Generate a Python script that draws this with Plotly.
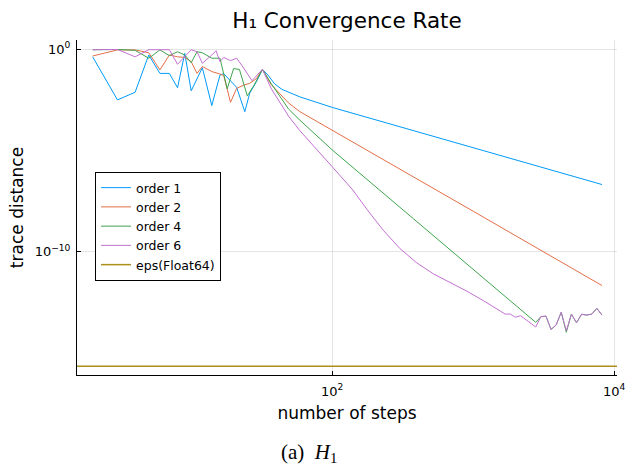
import plotly.graph_objects as go

# ---------------- data (distances stored as log10 exponents) ----------------
steps_order1 = [2, 3, 4, 5, 6, 7, 8, 9, 10, 12, 14, 16, 17, 21, 24, 26, 29, 32,
                35, 39, 44, 49, 59, 100, 1000, 8192]
log_dist_order1 = [-0.37, -2.50, -2.12, -0.28, -1.19, -1.19, -1.90, -0.20, -2.05, -0.91,
                   -2.78, -1.27, -1.20, -1.88, -3.08, -2.17, -1.60, -0.99,
                   -1.27, -1.70, -1.98, -2.13, -2.35, -2.87, -4.86, -6.68]

steps_order2 = [2, 3, 4, 5, 6, 7, 8, 9, 10, 11, 12, 14, 16, 17, 19, 21, 24, 26, 29, 32,
                37, 49, 59, 100, 1000, 8192]
log_dist_order2 = [-0.33, -0.03, -0.03, -0.17, -1.02, -0.28, -0.37, -0.40, -0.61, -1.19,
                   -0.85, -1.10, -1.22, -1.30, -2.62, -1.93, -1.75, -1.68, -1.45, -0.99,
                   -1.75, -2.65, -3.08, -3.99, -8.00, -11.67]

steps_order4 = [2, 3, 4, 5, 6, 7, 8, 9, 10, 11, 12, 14, 16, 18, 20, 22, 25, 28, 32,
                37, 49, 59, 100, 1000,
                2778, 3019, 3281, 3566, 3875, 4211, 4577, 4973, 5405, 5874, 6383, 6937, 7538, 8192]
log_dist_order4 = [-0.02, -0.01, -0.05, -0.44, -0.03, -0.31, -0.12, -0.28, -0.66, -0.12,
                   -0.17, -0.44, -0.44, -1.95, -0.95, -1.00, -2.30, -1.76, -0.99,
                   -1.70, -2.95, -3.50, -4.97, -10.87,
                   -13.49, -13.21, -13.18, -13.84, -13.62, -12.99, -13.98, -13.08, -13.51,
                   -13.09, -13.13, -13.08, -12.80, -13.13]

steps_order6 = [2, 3, 4, 5, 6, 7, 8, 9, 10, 11, 12, 14, 15, 16, 17, 19, 21, 23, 27, 32,
                37, 49, 59, 100, 140, 176, 231, 303, 398, 524, 687, 902, 1183, 1552,
                1687, 1833, 1992, 2165, 2353, 2557, 2778,
                3019, 3281, 3566, 3875, 4211, 4577, 4973, 5405, 5874, 6383, 6937, 7538, 8192]
log_dist_order6 = [-0.02, -0.01, -0.37, -0.02, -0.02, -0.02, -0.74, -0.37, -0.02, -0.12,
                   -0.69, -0.28, -0.07, -0.61, -0.40, -0.56, -0.44, -0.82, -1.55, -0.99,
                   -1.95, -3.30, -4.02, -5.80, -6.95, -7.90, -8.95, -9.85, -10.55, -11.10,
                   -11.52, -11.95, -12.42, -12.90,
                   -13.08, -13.08, -13.24, -13.16, -13.34, -13.51, -13.72,
                   -13.21, -13.18, -13.84, -13.62, -12.99, -13.90, -13.08, -13.51,
                   -13.09, -13.13, -13.08, -12.80, -13.13]

EPS_FLOAT64 = 2.220446049250313e-16

series_names = ["order 1", "order 2", "order 4", "order 6"]
series_colors = ["#009AFA", "#E36F47", "#3EA44E", "#C371D2"]
eps_color = "#AC8E18"

X_RANGE_LOG = [0.19, 4.02]
Y_RANGE_LOG = [-16.09, 0.46]

FONT = "DejaVu Sans"
FIG_W, FIG_H = 625, 468

fig = go.Figure()
all_steps = [steps_order1, steps_order2, steps_order4, steps_order6]
all_logs = [log_dist_order1, log_dist_order2, log_dist_order4, log_dist_order6]
for name, xs, ls, c in zip(series_names, all_steps, all_logs, series_colors):
    fig.add_trace(go.Scatter(x=xs, y=[10 ** v for v in ls], mode="lines", name=name,
                             line=dict(color=c, width=1)))

fig.add_trace(go.Scatter(x=[10 ** X_RANGE_LOG[0], 10 ** X_RANGE_LOG[1]],
                         y=[EPS_FLOAT64, EPS_FLOAT64], mode="lines", name="eps(Float64)",
                         line=dict(color=eps_color, width=1.5)))

axis_common = dict(
    type="log", automargin=False, showline=True, linecolor="black", linewidth=1,
    mirror=False, ticks="inside", ticklen=4, tickcolor="black", tickwidth=1,
    showgrid=True, gridcolor="rgba(0,0,0,0.1)", gridwidth=1, zeroline=False,
    tickfont=dict(family=FONT, size=13, color="black"), ticklabeloverflow="allow",
)

fig.update_layout(
    width=FIG_W, height=FIG_H,
    paper_bgcolor="white", plot_bgcolor="white",
    margin=dict(l=77, r=8, t=40, b=93),
    font=dict(family=FONT, color="black"),
    title=dict(text="H₁ Convergence Rate", x=347 / FIG_W, xanchor="center",
               y=1 - 20 / FIG_H, yanchor="middle", automargin=False,
               font=dict(family=FONT, size=21.5, color="black")),
    xaxis=dict(axis_common, range=X_RANGE_LOG, tickvals=[100, 10000],
               ticktext=["10<sup>2</sup>", "10<sup>4</sup>"], ticklabelstandoff=4,
               title=dict(text="number of steps", font=dict(family=FONT, size=17), standoff=9)),
    yaxis=dict(axis_common, range=Y_RANGE_LOG, tickvals=[1, 1e-10],
               ticktext=["10<sup>0</sup>", "10<sup>−10</sup>"], ticklabelstandoff=3,
               title=dict(text="trace distance", font=dict(family=FONT, size=17), standoff=6)),
    showlegend=True,
    legend=dict(x=(95 - 77) / 540, y=(375 - 172) / 335, xanchor="left", yanchor="top",
                bgcolor="white", bordercolor="black", borderwidth=1,
                font=dict(family=FONT, size=12.5, color="black"),
                tracegroupgap=0, itemwidth=30),
    annotations=[dict(text="(a)  <i>H</i><sub>1</sub>", xref="paper", yref="paper",
                      x=(309 - 77) / 540, y=(375 - 453) / 335, xanchor="center",
                      yanchor="middle", showarrow=False,
                      font=dict(family="Liberation Serif", size=21, color="black"))],
)

# remove the browser's default 8px page margin so the figure fills the window exactly
fig.write_html("out.html", config={"displayModeBar": False},
               post_script="document.body.style.margin='0';")
